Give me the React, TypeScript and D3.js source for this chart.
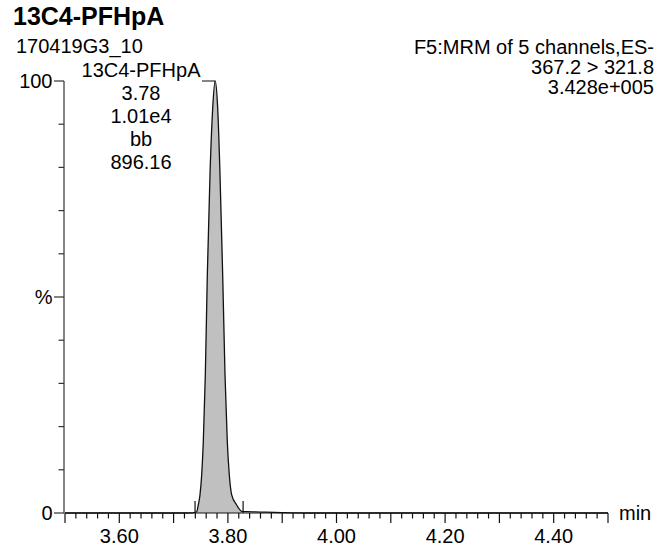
import React from "react";
import * as d3 from "d3";

const W = 655;
const H = 550;

const title = "13C4-PFHpA";
const sampleName = "170419G3_10";
const headerRight = ["F5:MRM of 5 channels,ES-", "367.2 > 321.8", "3.428e+005"];
const peakLabel = ["13C4-PFHpA", "3.78", "1.01e4", "bb", "896.16"];

const traceTimes = [3.5, 3.6, 3.7, 3.735, 3.7425, 3.7455, 3.7486, 3.7517, 3.7547, 3.7584, 3.7621, 3.767, 3.772, 3.7765, 3.7812, 3.7855, 3.7904, 3.7947, 3.7989, 3.8026, 3.807, 3.8162, 3.8254, 3.835, 3.85, 3.87, 3.9, 3.95, 4.1, 4.3, 4.5];
const traceValues = [0, 0, 0, 0.05, 0.3, 1.9, 4.2, 8.8, 16.5, 31.9, 55.1, 78.2, 93.7, 100, 93.7, 78.2, 55.1, 31.9, 16.5, 8.8, 4.2, 1.85, 0.4, 0.3, 0.25, 0.2, 0.1, 0, 0, 0, 0];

const peakStart = 3.7395;
const peakEnd = 3.828;
const apexTime = 3.7765;

const xLabelTicks = [3.6, 3.8, 4.0, 4.2, 4.4];
const xDomain = [3.5, 4.5];
const yTickLabels: [number, string][] = [[100, "100"], [50, "%"], [0, "0"]];

const FONT = "'Liberation Sans', Arial, Helvetica, sans-serif";

export default function App() {
  const x = d3.scaleLinear().domain(xDomain).range([65, 608]);
  const y = d3.scaleLinear().domain([0, 100]).range([513, 81]);

  const pts = traceTimes.map((t, i) => [t, traceValues[i]] as [number, number]);
  const line = d3
    .line<[number, number]>()
    .x((d) => x(d[0]))
    .y((d) => y(d[1]))
    .curve(d3.curveMonotoneX);
  const fillPts = pts.filter((d) => d[0] >= peakStart - 0.004 && d[0] <= peakEnd + 0.001);
  const area = d3
    .area<[number, number]>()
    .x((d) => x(d[0]))
    .y0(y(0))
    .y1((d) => y(d[1]))
    .curve(d3.curveMonotoneX);

  const minorX = d3.range(0, 51).map((i) => 3.5 + i * 0.02);
  const yMinor = d3.range(0, 11).map((i) => i * 10);

  const fs = 20;

  return (
    <svg
      width={W}
      height={H}
      style={{ position: "fixed", left: 0, top: 0, background: "#fff" }}
      fontFamily={FONT}
    >
      <rect x={0} y={0} width={W} height={H} fill="#fff" />
      <text x={13} y={25} fontSize={25} fontWeight="bold" fill="#000">
        {title}
      </text>
      <text x={16} y={53} fontSize={fs} fill="#000">
        {sampleName}
      </text>
      {headerRight.map((s, i) => (
        <text key={i} x={654} y={53.5 + i * 20} fontSize={fs} textAnchor="end" fill="#000">
          {s}
        </text>
      ))}
      {peakLabel.map((s, i) => (
        <text key={i} x={141} y={76.5 + i * 23} fontSize={fs} textAnchor="middle" fill="#000">
          {s}
        </text>
      ))}

      {/* area fill */}
      <path d={area(fillPts) || ""} fill="#c0c0c0" stroke="none" />
      {/* trace */}
      <path d={line(pts) || ""} fill="none" stroke="#111" strokeWidth={1.3} />

      {/* peak label connector */}
      <line x1={202} x2={x(apexTime)} y1={y(100)} y2={y(100)} stroke="#333" strokeWidth={1.2} />

      {/* peak markers */}
      <line x1={x(peakStart)} x2={x(peakStart)} y1={y(0) - 12} y2={y(0)} stroke="#111" strokeWidth={1.2} />
      <line x1={x(peakEnd)} x2={x(peakEnd)} y1={y(0) - 12} y2={y(0)} stroke="#111" strokeWidth={1.2} />

      {/* y axis */}
      <line x1={64} x2={64} y1={y(100)} y2={y(0)} stroke="#333" strokeWidth={1.2} />
      {yMinor.map((v) => {
        const major = v === 0 || v === 50 || v === 100;
        return (
          <line key={v} x1={64 - (major ? 10 : 5.5)} x2={64} y1={y(v)} y2={y(v)} stroke="#333" strokeWidth={1.2} />
        );
      })}
      {yTickLabels.map(([v, s]) => (
        <text key={s} x={52.5} y={y(v) + 7} fontSize={fs} textAnchor="end" fill="#000">
          {s}
        </text>
      ))}

      {/* x axis */}
      <line x1={x(3.5)} x2={x(4.5)} y1={y(0)} y2={y(0)} stroke="#111" strokeWidth={1.2} />
      {minorX.map((t, i) => {
        const major = i % 5 === 0;
        return (
          <line key={i} x1={x(t)} x2={x(t)} y1={y(0)} y2={y(0) + (major ? 10 : 5.5)} stroke="#111" strokeWidth={1.2} />
        );
      })}
      {xLabelTicks.map((t) => (
        <text key={t} x={x(t)} y={542.5} fontSize={fs} textAnchor="middle" fill="#000">
          {t.toFixed(2)}
        </text>
      ))}
      <text x={619} y={520} fontSize={fs} fill="#000">
        min
      </text>
    </svg>
  );
}
